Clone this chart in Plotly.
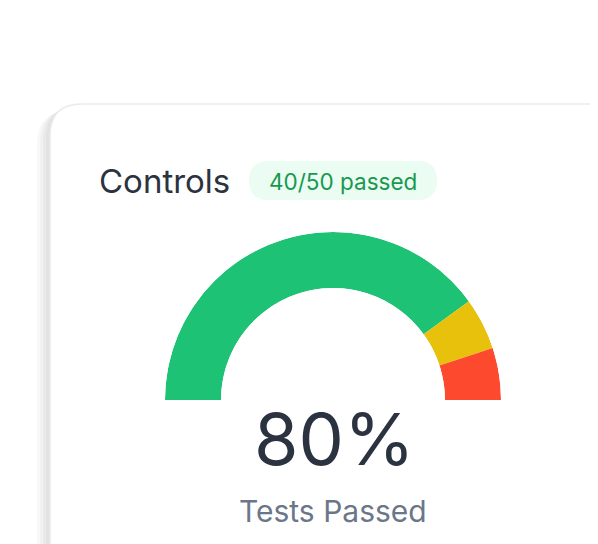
import plotly.graph_objects as go

# Data
title_text = "Controls"
passed = 40
total = 50
segment_labels = ["Passed", "Warning", "Failed"]
segment_values = [40, 5, 5]
segment_colors = ["#1dc275", "#e8c10c", "#fd4a2e"]
big_label = "80%"
sub_label = "Tests Passed"

# page has an 8px body margin; work in screen coordinates and offset
OFF = 8
W, H = 598 - OFF, 544 - OFF
fig = go.Figure()

tot = sum(segment_values)
thetas, widths = [], []
acc = 0
for v in segment_values:
    w = 180.0 * v / tot
    thetas.append(acc + w / 2)
    widths.append(w)
    acc += w

fig.add_trace(go.Barpolar(
    r=[1] * len(segment_values), theta=thetas, width=widths,
    marker=dict(color=segment_colors, line=dict(width=0)),
    text=segment_labels, hoverinfo="text", showlegend=False,
))

cx, cy, R, r_in = 333 - OFF, 400 - OFF, 168, 112
fig.update_layout(
    width=W, height=H, margin=dict(l=0, r=0, t=0, b=0),
    paper_bgcolor="white", plot_bgcolor="rgba(0,0,0,0)",
    xaxis=dict(range=[OFF, OFF + W], visible=False, fixedrange=True),
    yaxis=dict(range=[OFF + H, OFF], visible=False, fixedrange=True),
    polar=dict(
        domain=dict(x=[(cx - R) / W, (cx + R) / W], y=[(H - cy) / H, (H - cy + R) / H]),
        sector=[0, 180], hole=r_in / R, bgcolor="rgba(0,0,0,0)",
        bargap=0,
        radialaxis=dict(visible=False, range=[0, 1]),
        angularaxis=dict(visible=False, direction="clockwise", rotation=180,
                         showgrid=False, showline=False, ticks=""),
    ),
)

def rrect(x0, y0, x1, y1, rad):
    return (f"M {x0},{y0+rad} Q {x0},{y0} {x0+rad},{y0} L {x1-rad},{y0} "
            f"Q {x1},{y0} {x1},{y0+rad} L {x1},{y1} L {x0},{y1} Z")

# shadow layers
for off, col in [(13, "#f8f8f8"), (10, "#f1f1f1"), (7, "#e9e9e9"), (4, "#e2e2e2")]:
    fig.add_shape(type="path", path=rrect(50 - off, 104 + off * 0.6, 650, 620, 32),
                  xref="x", yref="y", fillcolor=col, line=dict(width=0), layer="below")
# card
fig.add_shape(type="path", path=rrect(50, 104, 640, 620, 32), xref="x", yref="y",
              fillcolor="white", line=dict(color="#ebebeb", width=1.5), layer="below")
# badge pill
bx0, bx1, by0, by1 = 249, 437, 161, 200
rr = (by1 - by0) / 2
fig.add_shape(type="path",
              path=(f"M {bx0+rr},{by0} L {bx1-rr},{by0} Q {bx1},{by0} {bx1},{(by0+by1)/2} "
                    f"Q {bx1},{by1} {bx1-rr},{by1} L {bx0+rr},{by1} Q {bx0},{by1} {bx0},{(by0+by1)/2} "
                    f"Q {bx0},{by0} {bx0+rr},{by0} Z"),
              xref="x", yref="y", fillcolor="#ebfcf2", line=dict(width=0), layer="below")

font = "Inter"
fig.add_annotation(x=97, y=181, xref="x", yref="y", text=title_text, showarrow=False,
                   xanchor="left", yanchor="middle",
                   font=dict(family=font, size=33, color="#2b3240"))
fig.add_annotation(x=343, y=181, xref="x", yref="y", text=f"{passed}/{total} passed",
                   showarrow=False, xanchor="center", yanchor="middle",
                   font=dict(family=font, size=22.5, color="#17994f"))
fig.add_annotation(x=334, y=438, xref="x", yref="y", text=big_label, showarrow=False,
                   xanchor="center", yanchor="middle",
                   font=dict(family=font, size=72, color="#2b3240"))
fig.add_annotation(x=333, y=511, xref="x", yref="y", text=sub_label, showarrow=False,
                   xanchor="center", yanchor="middle",
                   font=dict(family=font, size=30, color="#6b7789"))

fig.write_html("out.html")
